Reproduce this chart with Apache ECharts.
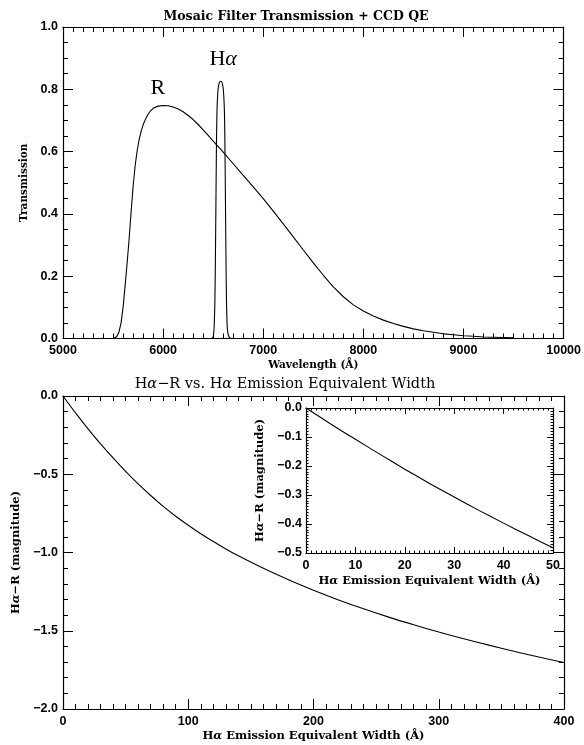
<!DOCTYPE html>
<html>
<head>
<meta charset="utf-8">
<script src="https://cdn.jsdelivr.net/npm/echarts@6/dist/echarts.min.js"></script>
<style>
  html, body { margin: 0; padding: 0; background: #fff; }
  #chart { width: 584px; height: 745px; }
</style>
</head>
<body>
<div id="chart"></div>
<script>
// R filter x CCD QE transmission curve (wavelength in Angstrom)
const rWave = [5480, 5500, 5520, 5540, 5560, 5580, 5600, 5620, 5640, 5660, 5680, 5700, 5720, 5740, 5760,
  5780, 5800, 5825, 5850, 5875, 5900, 5950, 6000, 6050, 6100, 6150, 6200, 6250, 6300, 6350, 6400, 6450,
  6500, 6600, 6700, 6800, 6900, 7000, 7100, 7200, 7300, 7400, 7500, 7600, 7700, 7800, 7900, 8000, 8100,
  8200, 8300, 8400, 8500, 8600, 8700, 8800, 8900, 9000, 9100, 9200, 9300, 9400, 9500];
const rTrans = [0, 0, 0.002, 0.008, 0.022, 0.05, 0.1, 0.168, 0.24, 0.318, 0.405, 0.487, 0.553, 0.602, 0.638,
  0.665, 0.686, 0.705, 0.72, 0.731, 0.739, 0.746, 0.748, 0.747, 0.743, 0.737, 0.728, 0.716, 0.703, 0.687, 0.67, 0.652,
  0.634, 0.598, 0.561, 0.524, 0.487, 0.449, 0.409, 0.368, 0.326, 0.284, 0.243, 0.203, 0.166, 0.134, 0.108, 0.088, 0.072,
  0.059, 0.048, 0.039, 0.031, 0.025, 0.02, 0.015, 0.012, 0.009, 0.007, 0.005, 0.004, 0.003, 0.002];

// Narrow-band H-alpha filter x CCD QE
const haWave = [6485, 6495, 6503, 6510, 6517, 6522, 6527, 6532, 6538, 6549, 6562, 6575, 6588, 6601, 6612,
  6618, 6623, 6628, 6633, 6640, 6648, 6660, 6675, 6690];
const haTrans = [0, 0.002, 0.01, 0.04, 0.12, 0.25, 0.42, 0.6, 0.73, 0.8, 0.822, 0.826, 0.822, 0.8, 0.73,
  0.6, 0.42, 0.25, 0.12, 0.04, 0.015, 0.005, 0.001, 0];

// Filter name annotations [wavelength, transmission]
const filterLabels = [
  { name: 'R', at: [5948, 0.805] },
  { name: 'Ha', at: [6600, 0.895] }
];

// H-alpha minus R colour versus emission equivalent width (Angstrom)
const ewMain = [0, 10, 20, 30, 40, 50, 60, 70, 80, 90, 100, 110, 120, 130, 140, 160, 180, 200,
  220, 240, 260, 280, 300, 320, 340, 360, 380, 400];
const magMain = [0, -0.108, -0.21, -0.306, -0.396, -0.482, -0.562, -0.636, -0.705, -0.768, -0.826, -0.88,
  -0.93, -0.977, -1.021, -1.101, -1.174, -1.241, -1.303, -1.36, -1.413, -1.462, -1.508, -1.551, -1.592,
  -1.631, -1.668, -1.703];

// Zoomed-in range for the inset
const ewInset = [0, 5, 10, 15, 20, 25, 30, 35, 40, 45, 50];
const magInset = [0, -0.055, -0.108, -0.16, -0.211, -0.26, -0.307, -0.353, -0.397, -0.44, -0.482];

const pairs = (xs, ys) => xs.map((x, i) => [x, ys[i]]);

const tickFont = { fontFamily: 'Liberation Sans', fontWeight: 'bold', fontSize: 12.5, color: '#000' };
const nameFont = { fontFamily: 'DejaVu Serif', fontWeight: 'bold', color: '#000' };
const lineStyle = { color: '#000', width: 1.2 };
const signed = v => (v < 0 ? '\u2212' : '') + Math.abs(v).toFixed(1);

function axisBase(opts) {
  return Object.assign({
    type: 'value',
    axisLine: { show: true, onZero: false, lineStyle: lineStyle },
    splitLine: { show: false },
    axisTick: { show: true, inside: true, length: 10, lineStyle: { color: '#000', width: 1 } },
    minorTick: { show: true, splitNumber: 5, length: 5, lineStyle: { color: '#000', width: 1 } },
    axisLabel: Object.assign({ show: true, margin: 6 }, tickFont)
  }, opts);
}
function mirror(base, pos) {
  const a = Object.assign({}, base);
  a.position = pos;
  a.axisLabel = { show: false };
  delete a.name;
  return a;
}
function haName(size) {
  return {
    fontSize: size, fontFamily: nameFont.fontFamily, fontWeight: 'bold', color: '#000',
    rich: {
      h: Object.assign({ fontSize: size }, nameFont),
      a: Object.assign({ fontSize: size, fontStyle: 'italic' }, nameFont)
    }
  };
}

const xTop = axisBase({
  min: 5000, max: 10000, interval: 1000,
  minorTick: { show: true, splitNumber: 10, length: 5, lineStyle: { color: '#000' } },
  axisLabel: Object.assign({ show: true, margin: 6, formatter: v => String(v) }, tickFont),
  name: 'Wavelength (Å)', nameLocation: 'middle', nameGap: 21,
  nameTextStyle: Object.assign({ fontSize: 10.5 }, nameFont),
  position: 'bottom'
});
const yTop = axisBase({
  min: 0, max: 1, interval: 0.2,
  minorTick: { show: true, splitNumber: 4, length: 5, lineStyle: { color: '#000' } },
  axisLabel: Object.assign({ show: true, margin: 5, formatter: v => v.toFixed(1) }, tickFont),
  name: 'Transmission', nameLocation: 'middle', nameGap: 26,
  nameTextStyle: Object.assign({ fontSize: 10.5 }, nameFont),
  position: 'left'
});

const xMain = axisBase({
  min: 0, max: 400, interval: 100,
  minorTick: { show: true, splitNumber: 10, length: 5, lineStyle: { color: '#000' } },
  name: '{h|H}{a|α}{h| Emission Equivalent Width (Å)}', nameLocation: 'middle', nameGap: 21,
  nameTextStyle: haName(11.5),
  position: 'bottom'
});
const yMain = axisBase({
  min: -2, max: 0, interval: 0.5,
  minorTick: { show: true, splitNumber: 5, length: 5, lineStyle: { color: '#000' } },
  axisLabel: Object.assign({ show: true, margin: 5, formatter: signed }, tickFont),
  name: '{h|H}{a|α}{h|\u2212R (magnitude)}', nameLocation: 'middle', nameGap: 38,
  nameTextStyle: haName(11.5),
  position: 'left'
});

const xInset = axisBase({
  min: 0, max: 50, interval: 10,
  axisTick: { show: true, inside: true, length: 6, lineStyle: { color: '#000' } },
  minorTick: { show: true, splitNumber: 10, length: 2.5, lineStyle: { color: '#000' } },
  name: '{h|H}{a|α}{h| Emission Equivalent Width (Å)}', nameLocation: 'middle', nameGap: 22,
  nameTextStyle: haName(11.5),
  position: 'bottom'
});
const yInset = axisBase({
  min: -0.5, max: 0, interval: 0.1,
  axisTick: { show: true, inside: true, length: 6, lineStyle: { color: '#000' } },
  minorTick: { show: true, splitNumber: 10, length: 2.5, lineStyle: { color: '#000' } },
  axisLabel: Object.assign({ show: true, margin: 4, formatter: signed }, tickFont),
  name: '{h|H}{a|α}{h|\u2212R (magnitude)}', nameLocation: 'middle', nameGap: 40,
  nameTextStyle: haName(11.5),
  position: 'left'
});

const xAxes = [xTop, mirror(xTop, 'top'), xMain, mirror(xMain, 'top'), xInset, mirror(xInset, 'top')];
const yAxes = [yTop, mirror(yTop, 'right'), yMain, mirror(yMain, 'right'), yInset, mirror(yInset, 'right')];

const chart = echarts.init(document.getElementById('chart'), null, { renderer: 'canvas' });

const plainSerif = { fontFamily: 'DejaVu Serif', fontSize: 14.5, fontWeight: 'normal', color: '#000' };

chart.setOption({
  animation: false,
  backgroundColor: '#fff',
  title: [
    {
      text: 'Mosaic Filter Transmission + CCD QE',
      left: 291, top: 5, textAlign: 'center',
      textStyle: { fontFamily: 'DejaVu Serif', fontWeight: 'bold', fontSize: 12.5, color: '#000' }
    },
    {
      text: '{h|H}{a|α}{h|\u2212R vs. H}{a|α}{h| Emission Equivalent Width}',
      left: 280, top: 372, textAlign: 'center',
      textStyle: Object.assign({
        rich: {
          h: Object.assign({}, plainSerif),
          a: Object.assign({ fontStyle: 'italic' }, plainSerif)
        }
      }, plainSerif)
    }
  ],
  grid: [
    { left: 63, right: 20, top: 27, height: 311.5 },
    { left: 63, right: 20, top: 396, height: 313 },
    { left: 306, right: 31, top: 408, height: 145, backgroundColor: '#fff', show: true, borderWidth: 0, z: 5 }
  ],
  xAxis: xAxes.map((a, i) => Object.assign(a, { gridIndex: Math.floor(i / 2), z: i >= 4 ? 6 : 2 })),
  yAxis: yAxes.map((a, i) => Object.assign(a, { gridIndex: Math.floor(i / 2), z: i >= 4 ? 6 : 2 })),
  series: [
    {
      type: 'line', xAxisIndex: 0, yAxisIndex: 0, data: pairs(rWave, rTrans),
      showSymbol: false, smooth: false, lineStyle: { color: '#000', width: 1.1 }
    },
    {
      type: 'line', xAxisIndex: 0, yAxisIndex: 0, data: pairs(haWave, haTrans),
      showSymbol: false, smooth: 0.3, lineStyle: { color: '#000', width: 1.1 }
    },
    {
      type: 'scatter', xAxisIndex: 0, yAxisIndex: 0, symbolSize: 1, silent: true,
      itemStyle: { opacity: 0 },
      data: filterLabels.map(d => ({ value: d.at, name: d.name })),
      label: {
        show: true, position: 'inside', color: '#000', opacity: 1,
        formatter: p => p.name === 'Ha' ? '{h|H}{a|α}' : '{h|R}',
        rich: {
          h: { fontFamily: 'Liberation Serif', fontSize: 22, color: '#000' },
          a: { fontFamily: 'Liberation Serif', fontSize: 22, fontStyle: 'italic', color: '#000' }
        }
      }
    },
    {
      type: 'line', xAxisIndex: 2, yAxisIndex: 2, data: pairs(ewMain, magMain),
      showSymbol: false, smooth: 0.3, lineStyle: { color: '#000', width: 1.1 }
    },
    {
      type: 'line', xAxisIndex: 4, yAxisIndex: 4, data: pairs(ewInset, magInset), z: 7,
      showSymbol: false, smooth: 0.3, lineStyle: { color: '#000', width: 1.1 }
    }
  ]
});
</script>
</body>
</html>
